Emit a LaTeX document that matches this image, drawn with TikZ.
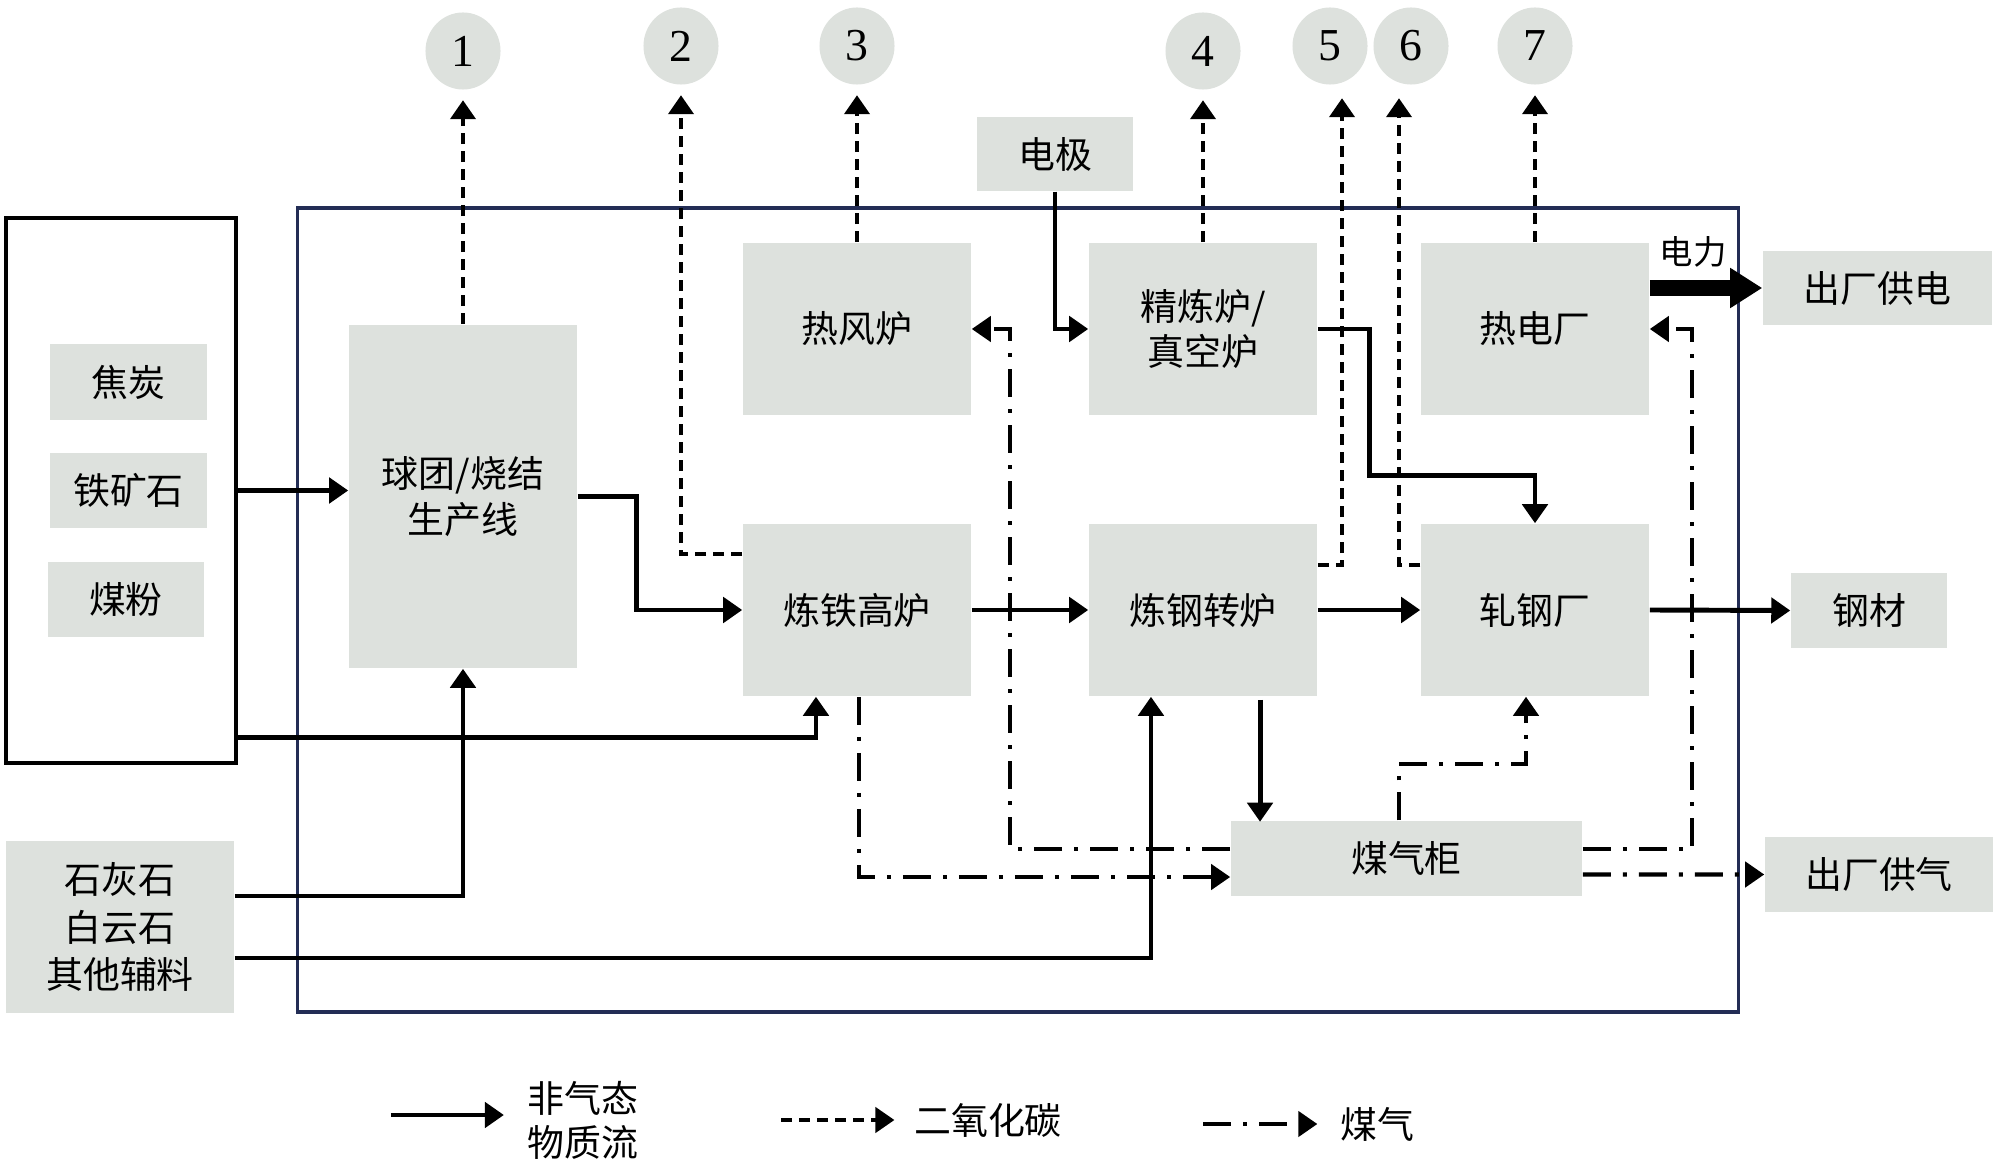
\documentclass[tikz,border=0pt]{standalone}
\usepackage{fontspec}
\setmainfont{Liberation Serif}
\newfontfamily\cjk{Noto Sans CJK SC}
\usetikzlibrary{arrows.meta,shapes.geometric}
\definecolor{boxgray}{RGB}{221,225,221}
\definecolor{framenavy}{RGB}{35,45,85}

\begin{document}
\begin{tikzpicture}[x=0.01cm, y=-0.01cm,
    plant/.style={fill=boxgray, inner sep=0pt, align=center, font=\cjk\fontsize{10.5}{13}\selectfont},
    num/.style={ellipse, fill=boxgray, inner sep=0pt, minimum width=0.75cm, minimum height=0.77cm, font=\fontsize{13}{15}\selectfont},
    lbl/.style={inner sep=0pt, align=center, font=\cjk\fontsize{10.5}{12.5}\selectfont},
    matflow/.style={line width=1.4pt, -{Triangle[length=1.9mm,width=2.5mm]}},
    co2flow/.style={line width=1.2pt, dash pattern=on 1.1mm off 0.7mm, -{Triangle[length=1.9mm,width=2.5mm]}},
    gasflow/.style={line width=1.2pt, dash pattern=on 2.8mm off 1.2mm on 0.4mm off 1.2mm, -{Triangle[length=1.9mm,width=2.5mm]}}]
  \useasboundingbox (0,0) rectangle (2000,1167);

  % frames
  \node[draw=framenavy, line width=1pt, minimum width=14.40cm, minimum height=8.04cm] (area) at (1018,610) {};
  \node[draw, line width=1.2pt, minimum width=2.30cm, minimum height=5.45cm] (raw) at (121,490.5) {};

  % raw materials
  \node[plant, minimum width=1.57cm, minimum height=0.76cm] (coke) at (128.5,382) {焦炭};
  \node[plant, minimum width=1.57cm, minimum height=0.75cm] (ore) at (128.5,490.5) {铁矿石};
  \node[plant, minimum width=1.56cm, minimum height=0.75cm] (coal) at (126,599.5) {煤粉};
  \node[plant, minimum width=2.28cm, minimum height=1.72cm, font=\cjk\fontsize{10.5}{13.5}\selectfont] (flux) at (120,927) {石灰石\\白云石\\其他辅料};
  \node[plant, minimum width=1.56cm, minimum height=0.74cm] (elec) at (1055,154) {电极};

  % plants
  \node[plant, minimum width=2.28cm, minimum height=3.43cm] (sinter) at (463,496.5) {球团/烧结\\生产线};
  \node[plant, minimum width=2.28cm, minimum height=1.72cm] (stove) at (857,329) {热风炉};
  \node[plant, minimum width=2.28cm, minimum height=1.72cm] (bf) at (857,610) {炼铁高炉};
  \node[plant, minimum width=2.28cm, minimum height=1.72cm] (lf) at (1203,329) {精炼炉/\\真空炉};
  \node[plant, minimum width=2.28cm, minimum height=1.72cm] (bof) at (1203,610) {炼钢转炉};
  \node[plant, minimum width=2.28cm, minimum height=1.72cm] (chp) at (1535,329) {热电厂};
  \node[plant, minimum width=2.28cm, minimum height=1.72cm] (mill) at (1535,610) {轧钢厂};
  \node[plant, minimum width=3.51cm, minimum height=0.75cm] (holder) at (1406.5,858.5) {煤气柜};

  % products
  \node[plant, minimum width=2.29cm, minimum height=0.74cm] (power) at (1877.5,288) {出厂供电};
  \node[plant, minimum width=1.56cm, minimum height=0.75cm] (steel) at (1869,610.5) {钢材};
  \node[plant, minimum width=2.28cm, minimum height=0.75cm] (gasout) at (1879,874.5) {出厂供气};

  % CO2 outlets
  \node[num] (c1) at (463,51) {1};
  \node[num] (c2) at (681,46) {2};
  \node[num] (c3) at (857,46) {3};
  \node[num] (c4) at (1203,51) {4};
  \node[num] (c5) at (1330,46) {5};
  \node[num] (c6) at (1411,46) {6};
  \node[num] (c7) at (1535,46) {7};

  % material flows
  \draw[matflow] (raw.east |- ore) -- (sinter.west |- ore);
  \draw[matflow] (sinter.east) -- ++(59,0) |- (bf.west);
  \draw[matflow] ([yshift=0.28cm]raw.south east) -| ([xshift=-0.41cm]bf.south);
  \draw[matflow] ([yshift=0.31cm]flux.east) -| (sinter.south);
  \draw[matflow] ([yshift=-0.31cm]flux.east) -| ([xshift=-0.52cm]bof.south);
  \draw[matflow] (bf.east) -- (bof.west);
  \draw[matflow] (bof.east) -- (mill.west);
  \draw[matflow] (mill.east) -- (steel.west);
  \draw[matflow] (elec.south) |- (lf.west);
  \draw[matflow] (lf.east) -- ++(52,0) |- ([yshift=0.48cm]mill.north) -- (mill.north);
  \draw[matflow] ([xshift=0.57cm,yshift=-0.03cm]bof.south) -- ++(0,122);
  \draw[line width=4.5pt, -{Triangle[length=0.32cm,width=0.38cm]}] (chp.east |- power) -- (power.west);
  \node[lbl, font=\cjk\fontsize{9.5}{11}\selectfont] (powerlbl) at (1693,252) {电力};

  % CO2
  \draw[co2flow, shorten >=1mm] (sinter.north) -- (c1.south);
  \draw[co2flow, shorten >=1mm] ([yshift=0.56cm]bf.west) -| (c2.south);
  \draw[co2flow, shorten >=1mm] (stove.north) -- (c3.south);
  \draw[co2flow, shorten >=1mm] (lf.north) -- (c4.south);
  \draw[co2flow, shorten >=1.3mm] ([yshift=0.45cm]bof.east) -| ([xshift=0.12cm]c5.south);
  \draw[co2flow, shorten >=1.3mm] ([yshift=0.45cm]mill.west) -| ([xshift=-0.12cm]c6.south);
  \draw[co2flow, shorten >=1mm] (chp.north) -- (c7.south);

  % gas
  \draw[gasflow] ([xshift=0.02cm]bf.south) |- ([yshift=-0.185cm]holder.west);
  \draw[gasflow] ([yshift=0.095cm]holder.west) -- ++(-220,0) |- (stove.east);
  \draw[gasflow] ([xshift=-0.075cm]holder.north) -- ++(0,-56) -| ([xshift=-0.09cm]mill.south);
  \draw[gasflow] ([yshift=0.095cm]holder.east) -- ++(109,0) |- (chp.east);
  \draw[gasflow] ([yshift=-0.16cm]holder.east) -- (gasout.west);

  % legend
  \node[lbl] (leg1) at (583,1120) {非气态\\物质流};
  \draw[matflow] ([xshift=-1.36cm,yshift=0.05cm]leg1.west) -- ([xshift=-0.23cm,yshift=0.05cm]leg1.west);
  \node[lbl] (leg2) at (988,1120) {二氧化碳};
  \draw[co2flow] ([xshift=-1.32cm]leg2.west) -- ([xshift=-0.19cm]leg2.west);
  \node[lbl] (leg3) at (1377,1124) {煤气};
  \draw[gasflow] ([xshift=-1.36cm]leg3.west) -- ([xshift=-0.22cm]leg3.west);
\end{tikzpicture}
\end{document}
